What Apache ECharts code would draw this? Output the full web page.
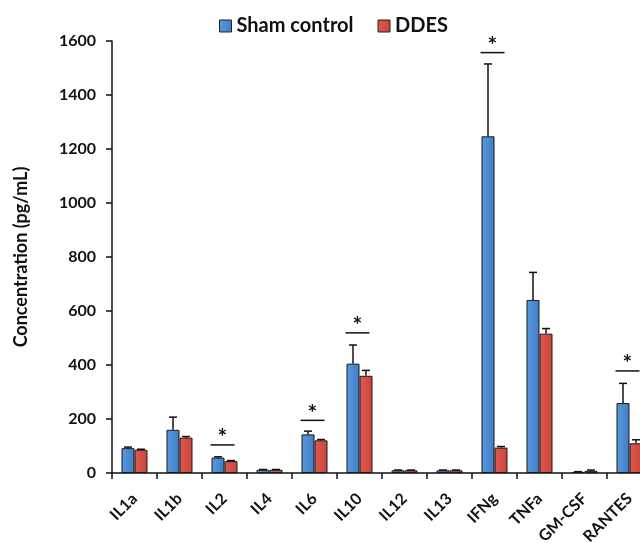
<!DOCTYPE html>
<html><head><meta charset="utf-8">
<script src="https://cdn.jsdelivr.net/npm/echarts@6/dist/echarts.min.js"></script>
<style>html,body{margin:0;padding:0;background:#fff}#c{width:640px;height:543px}</style>
</head><body><div id="c"></div>
<script>
const categories = ['IL1a','IL1b','IL2','IL4','IL6','IL10','IL12','IL13','IFNg','TNFa','GM-CSF','RANTES'];
const shamValues = [92, 160, 57, 12, 143, 405, 10, 10, 1247, 641, 4, 259];
const shamErrors = [4, 47, 3, 1, 12, 69, 1, 1, 268, 102, 1, 73];
const ddesValues = [86, 131, 44, 12, 121, 360, 10, 10, 94, 516, 8, 110];
const ddesErrors = [2, 4, 2, 1, 3, 20, 1, 1, 4, 19, 3, 13];
const sigCategories = ['IL2','IL6','IL10','IFNg','RANTES'];
const sigLevels = [104, 195, 519, 1557, 378];
const yTicks = [0, 200, 400, 600, 800, 1000, 1200, 1400, 1600];

const FONT = 'Lato';
const BW = 13;
const chart = echarts.init(document.getElementById('c'));

function errSeries(vals, errs, off) {
  return {
    type: 'custom', z: 5, silent: true,
    data: vals.map((v, i) => [i, v, v + errs[i]]),
    renderItem: function (params, api) {
      const p0 = api.coord([api.value(0), api.value(1)]);
      const p1 = api.coord([api.value(0), api.value(2)]);
      const x = p0[0] + off;
      return { type: 'group', children: [
        { type: 'line', shape: { x1: x, y1: p0[1], x2: x, y2: p1[1] }, style: { stroke: '#111', lineWidth: 1.5 } },
        { type: 'line', shape: { x1: x - 4, y1: p1[1], x2: x + 4, y2: p1[1] }, style: { stroke: '#111', lineWidth: 1.5 } }
      ]};
    }
  };
}

const barGrad = (c1, c2) => new echarts.graphic.LinearGradient(0, 0, 1, 0, [{offset: 0, color: c1}, {offset: 1, color: c2}]);

chart.setOption({
  animation: false,
  backgroundColor: '#fff',
  grid: { left: 112, right: -12, top: 41, bottom: 70, containLabel: false, outerBoundsMode: 'none' },
  legend: {
    top: 11, left: 214, itemGap: 24, itemWidth: 12, itemHeight: 12, icon: 'rect',
    data: ['Sham control', 'DDES'],
    textStyle: { fontFamily: FONT, fontWeight: 'bold', fontSize: 20, color: '#111' },
    itemStyle: { borderColor: '#222', borderWidth: 1 }
  },
  xAxis: {
    type: 'category', data: categories,
    axisLine: { lineStyle: { color: '#111', width: 1.5 } },
    axisTick: { show: true, length: 6, alignWithLabel: false, lineStyle: { color: '#111', width: 1.5 } },
    axisLabel: { rotate: 45, margin: 23, fontFamily: FONT, fontWeight: 'bold', fontSize: 16, color: '#111', interval: 0, hideOverlap: false }
  },
  yAxis: {
    type: 'value', min: yTicks[0], max: yTicks[yTicks.length - 1], interval: 200,
    name: 'Concentration (pg/mL)', nameLocation: 'middle', nameGap: 82,
    nameTextStyle: { fontFamily: FONT, fontWeight: 'bold', fontSize: 18, color: '#111' },
    axisLine: { show: true, lineStyle: { color: '#111', width: 1.5 } },
    axisTick: { show: true, length: 6, lineStyle: { color: '#111', width: 1.5 } },
    splitLine: { show: false },
    axisLabel: { margin: 16, fontFamily: FONT, fontWeight: 'bold', fontSize: 16, color: '#111', formatter: v => String(v) }
  },
  series: [
    { name: 'Sham control', type: 'bar', data: shamValues, barWidth: BW, barGap: '0%',
      itemStyle: { color: barGrad('#5a9ae0', '#3f7cc4'), borderColor: '#1a1a1a', borderWidth: 1 } },
    { name: 'DDES', type: 'bar', data: ddesValues, barWidth: BW, barGap: '0%',
      itemStyle: { color: barGrad('#e0594e', '#c9453c'), borderColor: '#1a1a1a', borderWidth: 1 } },
    errSeries(shamValues, shamErrors, -BW / 2),
    errSeries(ddesValues, ddesErrors, BW / 2),
    { type: 'custom', z: 6, silent: true,
      data: sigCategories.map((c, i) => [categories.indexOf(c), sigLevels[i]]),
      renderItem: function (params, api) {
        const p = api.coord([api.value(0), api.value(1)]);
        const x = p[0] - 2;
        return { type: 'group', children: [
          { type: 'line', shape: { x1: x - 12, y1: p[1], x2: x + 12, y2: p[1] }, style: { stroke: '#111', lineWidth: 1.5 } },
          { type: 'text', x: x, y: p[1] - 7, style: { text: '*', fontFamily: FONT, fontWeight: 'bold', fontSize: 23, fill: '#111', align: 'center', verticalAlign: 'middle' } }
        ]};
      }
    }
  ]
});
</script></body></html>
